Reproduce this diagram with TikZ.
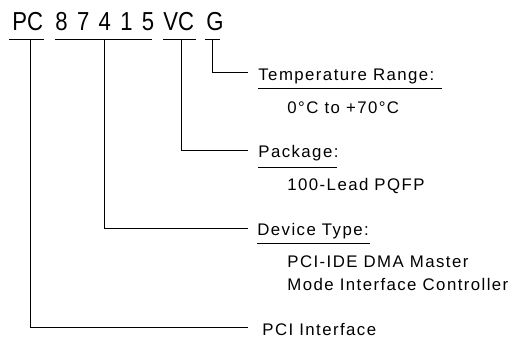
\documentclass[tikz,border=0pt]{standalone}
\usepackage{fontspec}
\setmainfont{Liberation Sans}[LetterSpace=8.5]
\newfontfamily\partfont{Liberation Sans}[FakeStretch=0.85]
\newfontfamily\digitfont{Liberation Sans}[FakeStretch=0.85,LetterSpace=36]
\usetikzlibrary{positioning}

\begin{document}
\begin{tikzpicture}[x=0.75pt,y=-0.75pt,line width=0.6pt,part node/.style={anchor=base west,inner sep=0pt,font=\partfont\fontsize{19.5}{20}\selectfont},label node/.style={anchor=base west,inner sep=0pt,font=\fontsize{12.6}{14}\selectfont}]
            \useasboundingbox (0,0) rectangle (513,339);

            % part number
            \node[part node] (1) at (12,30) {PC};
            \node[part node, font=\digitfont\fontsize{19.5}{20}\selectfont] (2) at (55,30) {87415};
            \node[part node] (3) at (163,30) {VC};
            \node[part node] (4) at (206,30) {G};

            \draw (9,39) -- (44,39);
            \draw (55,39) -- (152,39);
            \draw (163,39) -- (196,39);
            \draw (205,39) -- (220,39);

            \coordinate (1a) at (30,39);
            \coordinate (2a) at (104.5,39);
            \coordinate (3a) at (181.5,39);
            \coordinate (4a) at (212.5,39);

            % fields
            \node[label node] (5) at (258,80) {Temperature Range:};
            \node[label node] (6) at (287,113) {0°C to +70°C};
            \node[label node] (7) at (258,157.5) {Package:};
            \node[label node] (8) at (287,190) {100-Lead PQFP};
            \node[label node] (9) at (257,235.5) {Device Type:};
            \node[label node] (10) at (287,267) {PCI-IDE DMA Master};
            \node[label node] (11) at (287,290) {Mode Interface Controller};
            \node[label node] (12) at (262,335) {PCI Interface};

            \draw (258,88) -- (442,88);
            \draw (258,167) -- (337,167);
            \draw (257,243) -- (370,243);

            \draw (4a) |- ([xshift=-7.5pt,yshift=6pt]5.base west);
            \draw (3a) |- ([xshift=-7.5pt,yshift=5.5pt]7.base west);
            \draw (2a) |- ([xshift=-7pt,yshift=5pt]9.base west);
            \draw (1a) |- ([xshift=-10.5pt,yshift=6pt]12.base west);
        \end{tikzpicture}
\end{document}
